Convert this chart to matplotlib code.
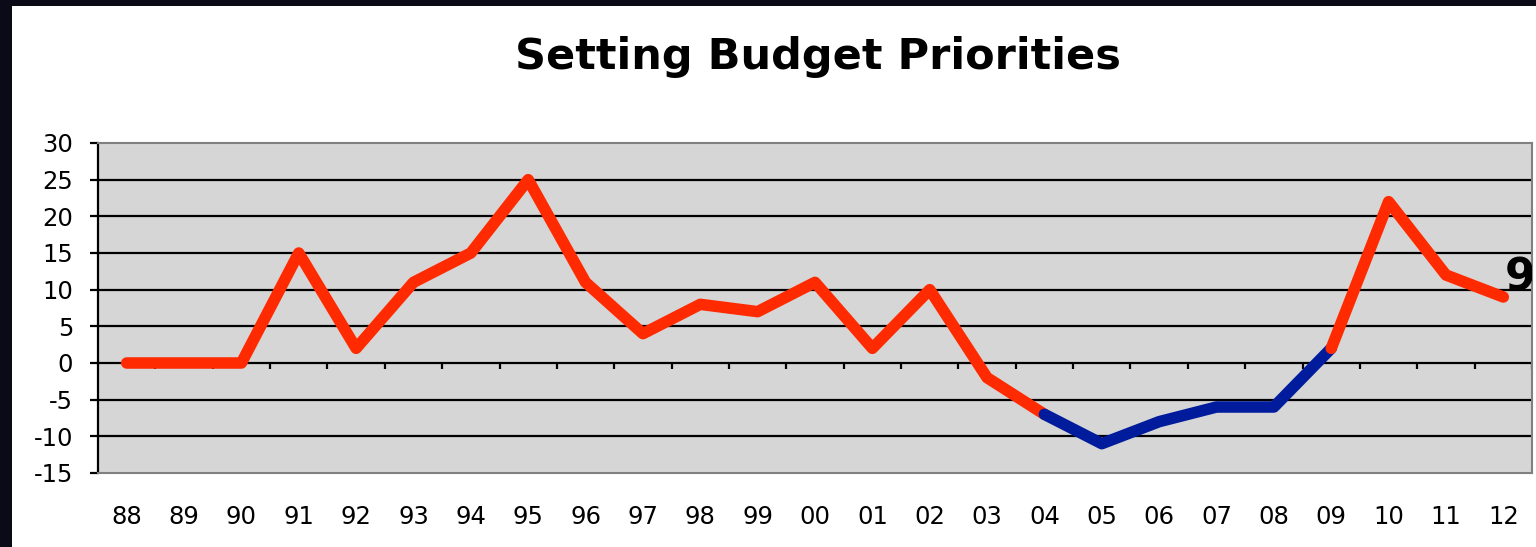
import numpy as np
import matplotlib
matplotlib.use("Agg")
import matplotlib.pyplot as plt
from matplotlib.patches import Rectangle

# data
years = ["88", "89", "90", "91", "92", "93", "94", "95", "96", "97", "98", "99", "00",
         "01", "02", "03", "04", "05", "06", "07", "08", "09", "10", "11", "12"]
values = [0, 0, 0, 15, 2, 11, 15, 25, 11, 4, 8, 7, 11,
          2, 10, -2, -7, -11, -8, -6, -6, 2, 22, 12, 9]
blue_start, blue_end = "04", "09"
yticks = [-15, -10, -5, 0, 5, 10, 15, 20, 25, 30]

red = "#ff2a00"
blue = "#001c9c"

fig = plt.figure(figsize=(15.36, 5.47), dpi=100)
fig.patch.set_facecolor("#0b0b18")
fig.patches.append(Rectangle((12 / 1536, 0), 1, 1 - 6 / 547, transform=fig.transFigure,
                             facecolor="white", edgecolor="none", zorder=-10))

ax = fig.add_axes([98 / 1536, 1 - 473 / 547, (1532 - 98) / 1536, (473 - 143) / 547])
ax.set_facecolor("#d6d6d6")

x = np.arange(len(years))
v = np.array(values)
i0, i1 = years.index(blue_start), years.index(blue_end)

# gridlines
for yt in yticks[1:-1]:
    ax.axhline(yt, color="black", lw=1.6, zorder=1)

# category ticks on the zero line
ax.vlines(np.arange(0.5, len(years)), -0.8, 0, color="black", lw=1.6, zorder=1)

ax.plot(x[:i0 + 1], v[:i0 + 1], color=red, lw=8.3, solid_capstyle="round",
        solid_joinstyle="round", zorder=3)
ax.plot(x[i0:i1 + 1], v[i0:i1 + 1], color=blue, lw=8.3, solid_capstyle="round",
        solid_joinstyle="round", zorder=4)
ax.plot(x[i1:], v[i1:], color=red, lw=8.3, solid_capstyle="round",
        solid_joinstyle="round", zorder=5)

ax.annotate(str(values[-1]), xy=(x[-1], v[-1]), xytext=(1, 14), textcoords="offset points",
            fontsize=32, fontweight="bold", ha="left", va="center", zorder=6,
            annotation_clip=False, clip_on=True)

ax.set_xlim(-0.5, len(years) - 0.5)
ax.set_ylim(-15, 30)
ax.set_yticks(yticks)
ax.set_yticklabels([str(t) for t in yticks], fontsize=17.5)
ax.set_xticks(x)
ax.set_xticklabels(years, fontsize=17.5)
ax.tick_params(axis="x", length=0, pad=23)
ax.tick_params(axis="y", length=6, width=1.6, pad=12, direction="out")

for side in ["top", "right", "bottom"]:
    ax.spines[side].set_color("#808080")
    ax.spines[side].set_linewidth(1.5)
ax.spines["left"].set_color("black")
ax.spines["left"].set_linewidth(1.6)

fig.text(818 / 1536, 1 - 57 / 547, "Setting Budget Priorities", fontsize=31,
         fontweight="bold", ha="center", va="center")

fig.savefig("out.png", dpi=100, facecolor=fig.get_facecolor())
